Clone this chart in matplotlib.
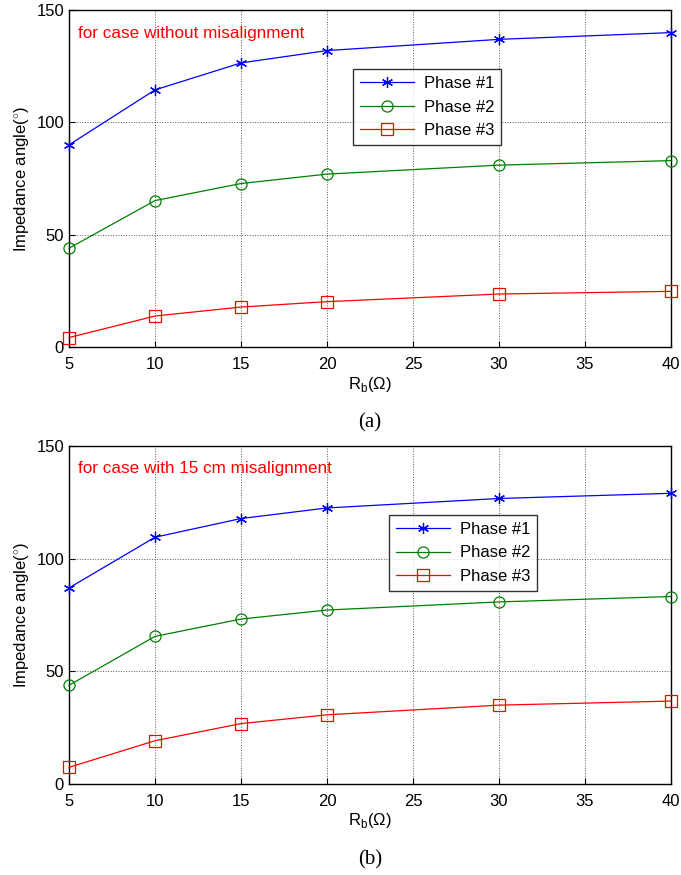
import numpy as np
from matplotlib import pyplot as plt

plt.rcParams['font.family'] = ['Liberation Sans', 'DejaVu Sans']
plt.rcParams['mathtext.fontset'] = 'custom'
plt.rcParams['mathtext.rm'] = 'Liberation Sans'

# DATA
rb = [5, 10, 15, 20, 30, 40]
labels = ["Phase #1", "Phase #2", "Phase #3"]

# (a) without misalignment
a_phase1 = [90, 114.5, 126.5, 132, 137, 140]
a_phase2 = [44, 65.2, 72.8, 77, 81, 83]
a_phase3 = [4.2, 13.8, 17.8, 20.2, 23.6, 24.8]

# (b) 15 cm misalignment
b_phase1 = [87, 109.5, 117.8, 122.5, 126.7, 129]
b_phase2 = [43.8, 65.5, 73.2, 77.2, 80.8, 83.2]
b_phase3 = [7.4, 19.2, 26.8, 30.7, 35, 36.8]

colors = ['#0000ff', '#008000', '#ff0000']
markers = [(6, 2, 0), 'o', 's']
msizes = [8, 8, 8]

fig = plt.figure(figsize=(6.81, 8.75), dpi=100)
ax1 = fig.add_axes([0.1013, 0.6034, 0.884, 0.385])
ax2 = fig.add_axes([0.1013, 0.104, 0.884, 0.3863])

def draw(ax, series, note, legend_pos, tag):
    for s, c, m, ms, lab in zip(series, colors, markers, msizes, labels):
        ax.plot(rb, s, color=c, marker=m, markersize=ms, markerfacecolor='none',
                markeredgecolor=c, linewidth=0.9, markeredgewidth=0.9,
                label=lab, clip_on=False, zorder=3)
    ax.set_xlim(5, 40)
    ax.set_ylim(0, 150)
    ax.set_xticks(np.arange(5, 41, 5))
    ax.set_yticks([0, 50, 100, 150])
    ax.grid(True, color='#555555', linestyle=':', linewidth=0.7)
    ax.tick_params(labelsize=12, direction='in', length=4)
    ax.tick_params(axis='x', pad=7)
    for sp in ax.spines.values():
        sp.set_linewidth(1.0)
    ax.set_xlabel(r'R$_\mathrm{b}$($\Omega$)', fontsize=12, labelpad=2)
    ax.set_ylabel(r'Impedance angle($^{\circ}$)', fontsize=12, labelpad=3)
    ax.text(0.015, 0.932, note, color='red', fontsize=12.3, transform=ax.transAxes,
            va='center', ha='left')
    leg = ax.legend(loc='upper left', bbox_to_anchor=legend_pos, fontsize=12,
                    frameon=True, fancybox=False, edgecolor='black',
                    handlelength=3.2, handletextpad=0.6, borderpad=0.43,
                    labelspacing=0.5, borderaxespad=0)
    leg.get_frame().set_linewidth(1.0)
    ax.text(0.5, -0.225, tag, transform=ax.transAxes, ha='center', va='center',
            fontsize=15, family='Liberation Serif')

draw(ax1, [a_phase1, a_phase2, a_phase3], 'for case without misalignment',
     (0.472, 0.825), '(a)')
draw(ax2, [b_phase1, b_phase2, b_phase3], 'for case with 15 cm misalignment',
     (0.532, 0.796), '(b)')

plt.savefig('out.png', dpi=100)
